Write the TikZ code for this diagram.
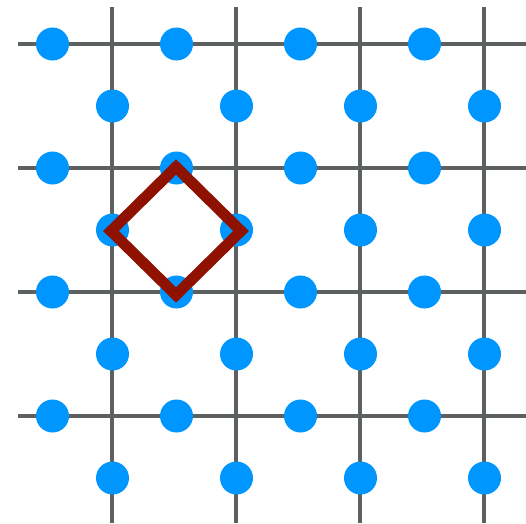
\documentclass[tikz,border=0pt]{standalone}
\usepackage{xcolor}
\usepackage{tikz}
\definecolor{gridgray}{RGB}{92,96,95}
\definecolor{dotblue}{RGB}{0,150,255}
\definecolor{cellred}{RGB}{143,18,0}

\begin{document}
\begin{tikzpicture}[
    x=1pt,y=-1pt,
    gridline/.style={draw=gridgray,line width=4pt},
    site/.style={fill=dotblue},
    cell/.style={draw=cellred,line width=11pt,miter limit=10},
]
\useasboundingbox (0,0) rectangle (526,523);
% grid lines
\foreach \k in {0,...,3} {
  \draw[gridline] (18,44+124*\k) -- (526,44+124*\k);
  \draw[gridline] (111.5+124*\k,7) -- (111.5+124*\k,523);
}
% lattice sites
\foreach \i in {0,...,3} {
  \foreach \j in {0,...,3} {
    \fill[site] (52.5+124*\j,44+124*\i) circle (16.5);
    \fill[site] (112.5+124*\j,106+124*\i) circle (16.5);
  }
}
% unit cell
\coordinate (top) at (176,167);
\coordinate (right) at (241,231);
\coordinate (bottom) at (176,295);
\coordinate (left) at (111,231);
\draw[cell] (top) -- (right) -- (bottom) -- (left) -- cycle;
\end{tikzpicture}
\end{document}
